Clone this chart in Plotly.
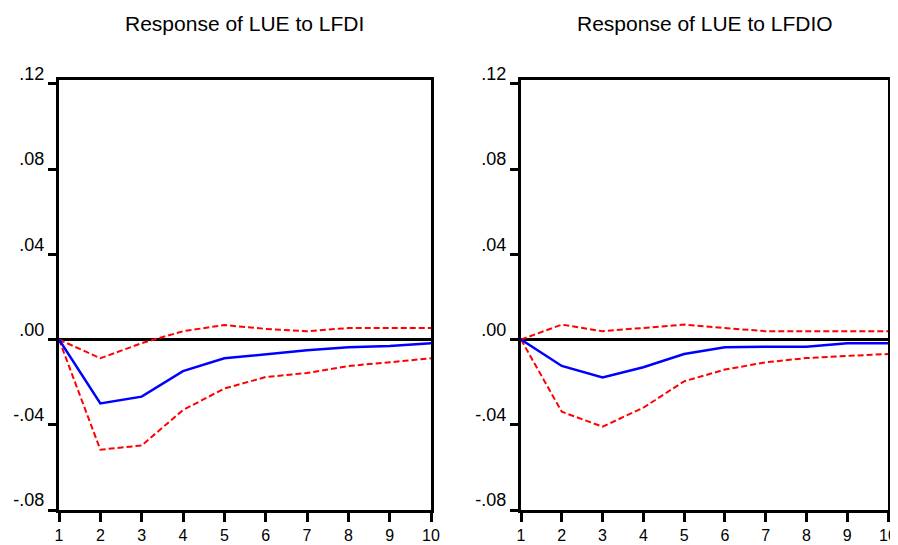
import plotly.graph_objects as go
from plotly.subplots import make_subplots

periods = [1, 2, 3, 4, 5, 6, 7, 8, 9, 10]

lfdi_resp = [0.0, -0.0300, -0.0268, -0.0148, -0.0088, -0.0068, -0.0050, -0.0036, -0.0030, -0.0018]
lfdi_upper = [0.0, -0.0088, -0.0017, 0.0039, 0.0068, 0.0050, 0.0039, 0.0054, 0.0054, 0.0054]
lfdi_lower = [0.0, -0.0517, -0.0497, -0.0331, -0.0230, -0.0176, -0.0157, -0.0124, -0.0107, -0.0088]

lfdio_resp = [0.0, -0.0124, -0.0178, -0.0130, -0.0068, -0.0036, -0.0034, -0.0034, -0.0018, -0.0017]
lfdio_upper = [0.0, 0.0070, 0.0039, 0.0054, 0.0070, 0.0054, 0.0039, 0.0039, 0.0039, 0.0039]
lfdio_lower = [0.0, -0.0339, -0.0409, -0.0320, -0.0196, -0.0141, -0.0107, -0.0087, -0.0077, -0.0068]

titles = ["Response of LUE to LFDI", "Response of LUE to LFDIO"]
y_tickvals = [-0.08, -0.04, 0.0, 0.04, 0.08, 0.12]
y_ticktext = ["-.08", "-.04", ".00", ".04", ".08", ".12"]
x_tickvals = periods
x_ticktext = [str(p) for p in periods]

FONT = "Liberation Sans, Arial, sans-serif"

# page body has an 8px margin; size the figure to fit the 898x545 window
OFF = 8
W, H = 898 - 2 * OFF, 545 - OFF
fig = make_subplots(rows=1, cols=2)

panels = [(lfdi_resp, lfdi_upper, lfdi_lower), (lfdio_resp, lfdio_upper, lfdio_lower)]
for i, (resp, up, lo) in enumerate(panels, start=1):
    fig.add_trace(go.Scatter(x=periods, y=up, mode="lines",
                             line=dict(color="#FF0000", width=2, dash="6px,3px"),
                             showlegend=False), row=1, col=i)
    fig.add_trace(go.Scatter(x=periods, y=lo, mode="lines",
                             line=dict(color="#FF0000", width=2, dash="6px,3px"),
                             showlegend=False), row=1, col=i)
    fig.add_trace(go.Scatter(x=periods, y=resp, mode="lines",
                             line=dict(color="#0000FF", width=2.5),
                             showlegend=False), row=1, col=i)

# screen-pixel geometry of the reference, converted to paper fractions
px_x = [[59, 431], [521, 888]]
px_top, px_bot = 80, 510
x_domains = [[(a - OFF) / W, (b - OFF) / W] for a, b in px_x]
y_domain = [(H - (px_bot - OFF)) / H, (H - (px_top - OFF)) / H]

for i in (1, 2):
    fig.update_xaxes(row=1, col=i, domain=x_domains[i - 1], range=[1, 10],
                     tickvals=x_tickvals, ticktext=x_ticktext,
                     ticks="outside", ticklen=9, tickwidth=3, tickcolor="black",
                     showline=True, linecolor="black", linewidth=3, mirror=True,
                     showgrid=False, zeroline=False, automargin=False,
                     tickfont=dict(family=FONT, size=16, color="black"),
                     ticklabelstandoff=0, ticklabeloverflow="allow")
    fig.update_yaxes(row=1, col=i, domain=y_domain, range=[-0.08, 0.1218],
                     tickvals=y_tickvals, ticktext=y_ticktext,
                     ticks="outside", ticklen=8, tickwidth=3, tickcolor="black",
                     showline=True, linecolor="black", linewidth=3, mirror=True,
                     showgrid=False, zeroline=True, zerolinecolor="black", zerolinewidth=3,
                     automargin=False,
                     tickfont=dict(family=FONT, size=18, color="black"),
                     ticklabelstandoff=0, ticklabelshift=-10)

for i, t in enumerate(titles):
    cx = (x_domains[i][0] + x_domains[i][1]) / 2
    fig.add_annotation(text=t, x=cx, y=(H - (23 - OFF)) / H, xref="paper", yref="paper",
                       showarrow=False, xanchor="center", yanchor="middle",
                       font=dict(family=FONT, size=21, color="black"))

fig.update_layout(width=W, height=H, margin=dict(l=0, r=0, t=0, b=0),
                  paper_bgcolor="white", plot_bgcolor="white",
                  font=dict(family=FONT, color="black"))

fig.write_html("out.html")
